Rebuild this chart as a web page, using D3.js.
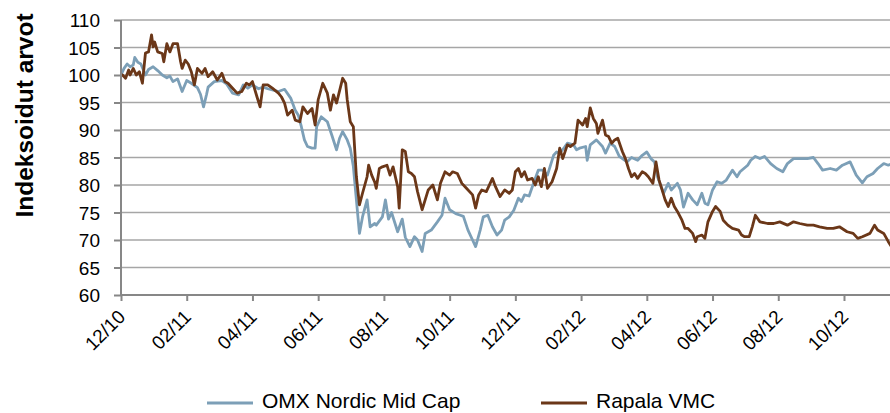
<!DOCTYPE html>
<html>
<head>
<meta charset="utf-8">
<script src="https://cdn.jsdelivr.net/npm/d3@7"></script>
<style>
  body { margin: 0; background: #fff; }
  text { font-family: 'Liberation Sans', Arial, sans-serif; fill: #000; }
</style>
</head>
<body>
<div id="chart"></div>
<script>
// trading day index, index value
const omx = [
  [0, 100], [2, 101.2], [4, 102], [6, 101.5], [8, 101.8], [9, 103.2], [11, 102.3], [13, 102],
  [16, 100], [18, 101], [21, 101.5], [24, 100.8], [27, 100], [30, 99.5], [32, 99.8], [34, 98.8],
  [37, 99.3], [40, 97], [43, 99], [46, 98.5], [50, 97.7], [52, 96.5], [54, 94.2], [56, 96.5],
  [57, 97.8], [61, 98.8], [66, 99], [69, 98.4], [73, 96.7], [77, 96.4], [80, 98.2], [83, 97.6],
  [86, 98.2], [90, 97.5], [93, 97.8], [96, 97.5], [99, 97.3], [103, 97], [107, 97.4], [111, 95.8],
  [114, 93.6], [116, 92.7], [118, 90.6], [120, 88.2], [122, 87], [125, 86.7], [127, 86.7], [128, 90.6],
  [131, 92.4], [135, 91.5], [138, 89], [141, 86.4], [143, 88.5], [145, 89.7], [148, 88.2], [150, 86.7],
  [152, 83.4], [154, 77.3], [156, 71.2], [158, 74.2], [161, 77.3], [163, 72.4], [166, 73], [167, 72.7],
  [171, 74.2], [173, 77.3], [175, 73.8], [177, 75], [181, 71.5], [184, 73.8], [186, 70.5], [189, 68.8],
  [192, 70.6], [194, 70], [197, 67.9], [199, 71.2], [201, 71.5], [203, 71.8], [207, 73.3], [210, 74.5],
  [212, 77.6], [215, 75.5], [219, 74.8], [222, 74.5], [224, 74.3], [227, 71.8], [230, 70], [232, 68.8],
  [235, 71.8], [237, 74.2], [240, 74.5], [243, 72.4], [246, 70.9], [249, 71.8], [251, 73.6], [254, 74.2],
  [257, 75.4], [260, 77.6], [262, 77], [264, 78.2], [267, 78], [270, 80.4], [273, 82.7], [276, 82.7],
  [279, 81.8], [283, 85.4], [285, 86], [287, 85.8], [290, 86.8], [292, 87.6], [296, 87.3], [298, 86.4],
  [300, 86.7], [304, 87], [305, 84.5], [307, 87.3], [311, 88.2], [315, 87], [317, 85.8], [320, 87.6],
  [323, 87], [326, 85.2], [331, 84.2], [334, 85], [338, 84.5], [341, 85.4], [344, 86], [347, 84.7],
  [349, 84.2], [351, 81.5], [355, 78.5], [358, 80.3], [360, 79.1], [364, 80.3], [366, 79.1], [368, 76],
  [371, 78.5], [374, 77.3], [377, 76.4], [380, 78.5], [382, 76.7], [384, 76.4], [387, 79.1], [390, 80.6],
  [393, 80.3], [396, 80.9], [400, 82.7], [403, 81.5], [405, 82.4], [410, 83.6], [412, 84.5], [415, 85.2],
  [418, 84.8], [421, 85.2], [425, 83.9], [429, 83], [433, 82.4], [436, 83.9], [440, 84.8], [444, 84.8],
  [449, 84.8], [453, 85], [456, 83.9], [459, 82.7], [464, 83], [468, 82.7], [472, 83.6], [477, 84.2],
  [481, 81.8], [485, 80.4], [488, 81.5], [492, 82.1], [495, 83], [499, 83.9], [502, 83.6], [504, 83.8]
]

const rapala = [
  [0, 100], [1, 100], [3, 99.4], [5, 100.9], [6, 100], [8, 101.2], [10, 100], [12, 100.6], [14, 98.5],
  [16, 104], [18, 104.2], [20, 107.3], [21, 105.1], [22, 106], [24, 104.2], [27, 103.9], [28, 102.4],
  [30, 105.7], [32, 104.2], [34, 105.7], [37, 105.7], [39, 102.4], [40, 101.2], [42, 102.7], [44, 102],
  [46, 100.6], [48, 98.2], [50, 101.2], [53, 100.3], [55, 101.2], [57, 99.7], [60, 100.6], [63, 99.1],
  [66, 100.3], [68, 98.8], [70, 98.5], [73, 97.6], [76, 96.7], [79, 97], [82, 98.5], [84, 98.2],
  [86, 98.8], [89, 96], [91, 94.2], [93, 98.2], [96, 98.2], [99, 97.6], [103, 96.7], [105, 96],
  [107, 94.9], [109, 92.7], [112, 93.6], [114, 91.8], [117, 91.5], [119, 94.2], [122, 93], [125, 93.9],
  [127, 90.9], [129, 95.5], [132, 98.5], [135, 96.7], [137, 93.6], [139, 96.4], [141, 94.9], [145, 99.4],
  [147, 98.5], [148, 95.5], [150, 91.5], [152, 90.6], [154, 81.5], [156, 76.4], [158, 78.5], [161, 81.5],
  [162, 83.6], [164, 81.8], [166, 80.5], [167, 79.4], [169, 83], [171, 83.3], [174, 83.6], [176, 81.8],
  [178, 83.3], [181, 79.7], [182, 75.8], [184, 86.4], [186, 86.1], [188, 82.4], [190, 82.1], [192, 81.5],
  [194, 78.8], [197, 75.5], [199, 77.3], [201, 79.1], [204, 80], [207, 77.3], [209, 80.3], [212, 82.4],
  [215, 81.8], [217, 82.4], [220, 82.1], [223, 80.3], [226, 79.4], [230, 78.2], [232, 75.8], [234, 78.2],
  [236, 79.1], [239, 78.8], [243, 81.2], [245, 79.7], [248, 77.9], [251, 79.1], [254, 78.5], [256, 79.1],
  [258, 82.4], [260, 83], [262, 81.5], [264, 82.4], [266, 80.9], [269, 81.2], [271, 80], [273, 81.5],
  [275, 79.7], [277, 83], [279, 79.4], [282, 80.6], [285, 83], [287, 86.7], [289, 84.8], [292, 87.3],
  [294, 87], [297, 87.6], [299, 91.8], [302, 90.9], [304, 92.1], [305, 90.6], [307, 94], [309, 92.1],
  [311, 91.2], [312, 89.4], [315, 91.8], [317, 89.1], [319, 88.8], [321, 87.6], [323, 88.2], [325, 88.5],
  [328, 86.1], [330, 84.8], [332, 83], [334, 81.5], [336, 82.1], [338, 81.2], [341, 82.4], [343, 82.1],
  [345, 81.5], [348, 80.3], [350, 84.2], [352, 80.9], [354, 79.1], [356, 77.3], [358, 76.1], [360, 77.6],
  [362, 76.1], [364, 75.2], [367, 73.6], [369, 72.1], [371, 72.1], [374, 71.2], [376, 69.7], [377, 70.6],
  [380, 70.9], [382, 70.3], [384, 73.3], [387, 75.2], [389, 76.1], [392, 75.2], [394, 73.6], [397, 72.7],
  [400, 72.1], [404, 71.8], [406, 70.9], [408, 70.6], [411, 70.6], [413, 72.4], [415, 74.5], [418, 73.3],
  [423, 73], [427, 73], [431, 73.3], [436, 72.7], [440, 73.3], [444, 73], [449, 72.7], [453, 72.7],
  [457, 72.4], [462, 72.1], [466, 72.1], [470, 72.4], [475, 71.5], [479, 71.2], [482, 70.3], [485, 70.6],
  [490, 71.2], [493, 72.7], [495, 71.8], [499, 71.2], [502, 69.7], [504, 68.8]
]

const tickLabels = ['12/10', '02/11', '04/11', '06/11', '08/11', '10/11', '12/11', '02/12', '04/12', '06/12', '08/12', '10/12']
const yTicks = [60, 65, 70, 75, 80, 85, 90, 95, 100, 105, 110]
const seriesNames = ['OMX Nordic Mid Cap', 'Rapala VMC']
const colors = ['#7c9fb7', '#6b3718']

const daysPerTick = 43
const margin = { top: 20, left: 121, right: 0, bottom: 118 }
const width = 890 - margin.left - margin.right
const height = 413 - margin.top - margin.bottom

const svg = d3
  .select('#chart')
  .append('svg')
  .attr('width', 890)
  .attr('height', 413)

const g = svg
  .append('g')
  .attr('transform', 'translate(' + margin.left + ',' + margin.top + ')')

const xPositionScale = d3.scaleLinear().domain([0, 503.1]).range([0, width])
const yPositionScale = d3.scaleLinear().domain([60, 110]).range([height, 0])

// gridlines
g.selectAll('.grid')
  .data(yTicks.filter(d => d > 60))
  .enter()
  .append('line')
  .attr('class', 'grid')
  .attr('x1', 0)
  .attr('x2', width)
  .attr('y1', d => yPositionScale(d))
  .attr('y2', d => yPositionScale(d))
  .attr('stroke', '#a6a6a6')
  .attr('stroke-width', 1.6)

g.append('clipPath')
  .attr('id', 'plot-clip')
  .append('rect')
  .attr('width', width)
  .attr('height', height)

const line = d3
  .line()
  .x(d => xPositionScale(d[0]))
  .y(d => yPositionScale(d[1]))

g.selectAll('.series')
  .data([omx, rapala])
  .enter()
  .append('path')
  .attr('class', 'series')
  .attr('clip-path', 'url(#plot-clip)')
  .attr('d', line)
  .attr('fill', 'none')
  .attr('stroke', (d, i) => colors[i])
  .attr('stroke-width', 2.8)
  .attr('stroke-linejoin', 'round')

// y axis
const yAxis = d3.axisLeft(yPositionScale).tickValues(yTicks).tickSize(7).tickPadding(14)
const yAxisG = g.append('g').attr('class', 'axis y-axis').call(yAxis)
yAxisG.select('.domain').remove()
yAxisG.selectAll('line').attr('stroke', '#878787').attr('stroke-width', 2)
yAxisG.selectAll('text').style('font-size', '19px').attr('dy', '0.36em')

g.append('line')
  .attr('x1', 0)
  .attr('x2', 0)
  .attr('y1', 0)
  .attr('y2', height)
  .attr('stroke', '#878787')
  .attr('stroke-width', 2)

// x axis
const xTickValues = tickLabels.map((d, i) => i * daysPerTick)
const xAxis = d3
  .axisBottom(xPositionScale)
  .tickValues(xTickValues)
  .tickSize(6)
  .tickFormat((d, i) => tickLabels[i])
const xAxisG = g
  .append('g')
  .attr('class', 'axis x-axis')
  .attr('transform', 'translate(0,' + height + ')')
  .call(xAxis)
xAxisG.select('.domain').attr('stroke', '#878787').attr('stroke-width', 2).attr('d', 'M0,0H' + width)
xAxisG.selectAll('line').attr('stroke', '#878787').attr('stroke-width', 2)
xAxisG
  .selectAll('text')
  .style('font-size', '19px')
  .attr('text-anchor', 'end')
  .attr('dy', null)
  .attr('y', 0)
  .attr('transform', 'translate(5,23) rotate(-45)')

// axis title
svg
  .append('text')
  .attr('transform', 'translate(33,115.5) rotate(-90)')
  .attr('text-anchor', 'middle')
  .style('font-size', '24.5px')
  .style('font-weight', 'bold')
  .text('Indeksoidut arvot')

// legend
const legendX = [207, 541]
const legend = svg
  .selectAll('.legend')
  .data(seriesNames)
  .enter()
  .append('g')
  .attr('class', 'legend')
  .attr('transform', (d, i) => 'translate(' + legendX[i] + ',403)')

legend
  .append('line')
  .attr('x1', 0)
  .attr('x2', 46)
  .attr('stroke', (d, i) => colors[i])
  .attr('stroke-width', 3)

legend
  .append('text')
  .attr('x', 55)
  .attr('y', 5)
  .style('font-size', '21px')
  .text(d => d)
</script>
</body>
</html>
